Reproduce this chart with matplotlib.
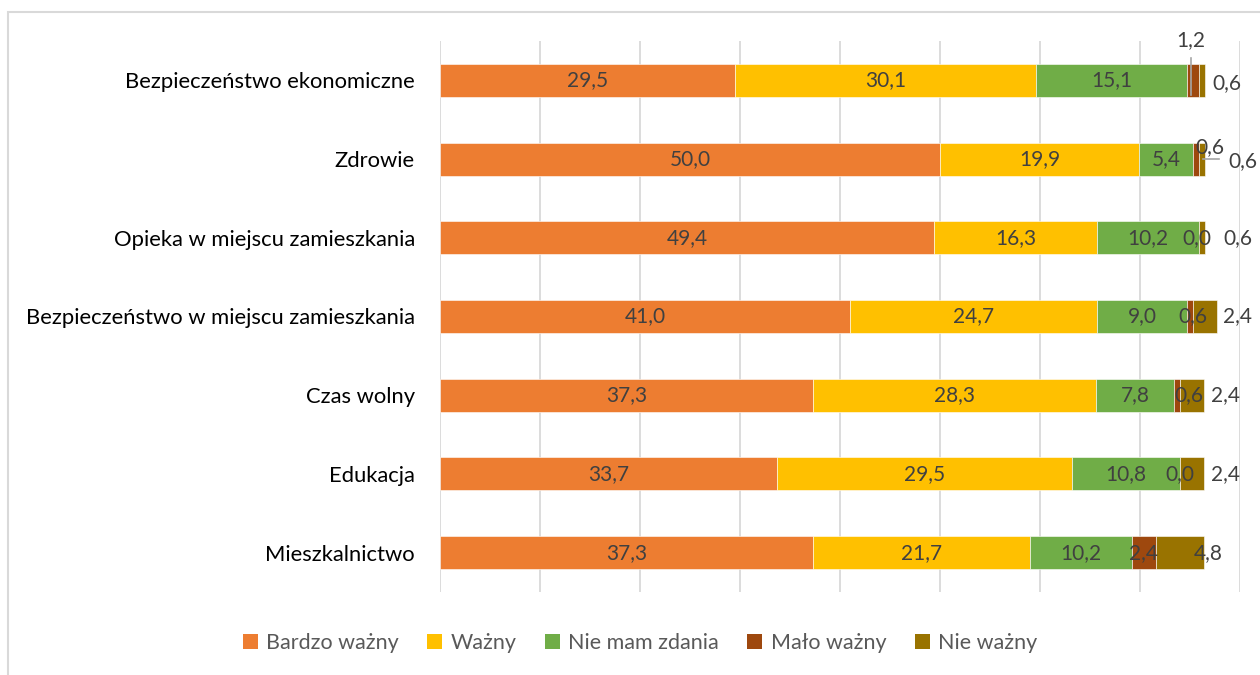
import numpy as np
import matplotlib.pyplot as plt
from matplotlib.patches import Patch, Rectangle

categories = ["Bezpieczeństwo ekonomiczne", "Zdrowie", "Opieka w miejscu zamieszkania",
              "Bezpieczeństwo w miejscu zamieszkania", "Czas wolny", "Edukacja", "Mieszkalnictwo"]
series = ["Bardzo ważny", "Ważny", "Nie mam zdania", "Mało ważny", "Nie ważny"]
bardzo_wazny = [29.5, 50.0, 49.4, 41.0, 37.3, 33.7, 37.3]
wazny = [30.1, 19.9, 16.3, 24.7, 28.3, 29.5, 21.7]
nie_mam_zdania = [15.1, 5.4, 10.2, 9.0, 7.8, 10.8, 10.2]
malo_wazny = [1.2, 0.6, 0.0, 0.6, 0.6, 0.0, 2.4]
nie_wazny = [0.6, 0.6, 0.6, 2.4, 2.4, 2.4, 4.8]
colors = ["#ED7D31", "#FFC000", "#70AD47", "#9E480E", "#997300"]

values = [bardzo_wazny, wazny, nie_mam_zdania, malo_wazny, nie_wazny]

# label positions moved by hand (row, series) -> (x, y)
label_pos = {
    (0, 3): (75.1, -0.51), (0, 4): (78.7, 0.04),
    (1, 3): (77.0, 0.85), (1, 4): (80.3, 1.03),
    (2, 3): (75.7, 2.0), (2, 4): (79.8, 2.0),
    (3, 3): (75.3, 3.0), (3, 4): (79.8, 3.0),
    (4, 3): (74.9, 4.0), (4, 4): (78.6, 4.0),
    (5, 4): (78.6, 5.0),
    (6, 4): (76.8, 6.0),
}

plt.rcParams['font.family'] = ['Lato', 'DejaVu Sans']

fig = plt.figure(figsize=(12.6, 6.75), dpi=100)
ax = fig.add_axes([440 / 1260, 1 - 592 / 675, 800 / 1260, 551 / 675])

y = np.arange(len(categories))
left = np.zeros(len(categories))
for i, (name, vals) in enumerate(zip(series, values)):
    vals = np.array(vals)
    ax.barh(y, vals, left=left, height=0.42, color=colors[i], edgecolor='white',
            linewidth=0.4, zorder=3)
    for r in range(len(categories)):
        x0, y0 = label_pos.get((r, i), (left[r] + vals[r] / 2, y[r]))
        ax.text(x0, y0, f"{vals[r]:.1f}".replace('.', ','), ha='center', va='center',
                fontsize=15, color='#404040', zorder=5)
    left += vals

# leader lines
ax.plot([75.1, 75.1], [-0.29, 0.19], color='#A6A6A6', lw=1.2, zorder=4)
ax.plot([76.3, 77.9], [1.0, 1.0], color='#A6A6A6', lw=1.2, zorder=4)

ax.set_xlim(0, 80)
ax.set_ylim(6.5, -0.5)
ax.set_xticks(np.arange(0, 81, 10))
ax.set_xticklabels([])
ax.set_yticks(y)
ax.set_yticklabels(categories, fontsize=15.8, color='black')
ax.tick_params(axis='both', length=0, pad=18)
ax.grid(axis='x', color='#D9D9D9', lw=1.3, zorder=0)
for s in ax.spines.values():
    s.set_visible(False)

handles = [Patch(facecolor=c, edgecolor='none') for c in colors]
leg = fig.legend(handles, series, loc='center', bbox_to_anchor=(0.508, 1 - 643 / 675),
                 ncol=5, frameon=False, fontsize=15.5, handlelength=0.7, handleheight=0.7,
                 handletextpad=0.4, columnspacing=1.3)
for t in leg.get_texts():
    t.set_color('#595959')

fig.patches.append(Rectangle((8 / 1260, -0.1), 1.2, 1.1 - 12 / 675,
                             transform=fig.transFigure, fill=False,
                             edgecolor='#D9D9D9', lw=1.5))

fig.savefig("out.png", dpi=100)
